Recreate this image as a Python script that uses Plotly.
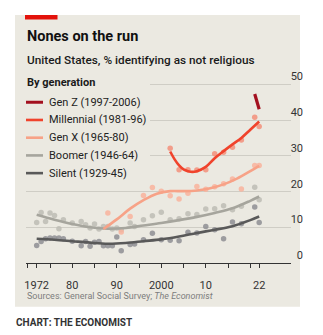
import plotly.graph_objects as go

# ---------------- data ----------------
generations = ["Gen Z (1997-2006)", "Millennial (1981-96)", "Gen X (1965-80)",
               "Boomer (1946-64)", "Silent (1929-45)"]

# survey-year estimates (dots)
silent_years = [1972, 1973, 1974, 1975, 1976, 1977, 1978, 1980, 1982, 1983, 1984, 1985,
                1986, 1987, 1988, 1989, 1990, 1991, 1993, 1994, 1996, 1998, 2000, 2002,
                2004, 2006, 2008, 2010, 2012, 2014, 2016, 2018, 2021, 2022]
silent_vals = [4.9, 6.0, 6.8, 7.0, 7.0, 7.0, 6.8, 6.1, 4.8, 6.0, 4.7, 5.8,
               6.0, 4.8, 4.8, 4.8, 7.3, 3.4, 5.2, 5.3, 6.5, 8.3, 6.5, 6.4,
               6.2, 8.6, 8.4, 10.2, 9.3, 6.8, 11.5, 11.0, 15.7, 11.3]

boomer_years = [1972, 1973, 1974, 1975, 1976, 1977, 1978, 1980, 1982, 1983, 1984, 1985,
                1986, 1987, 1988, 1989, 1990, 1991, 1993, 1994, 1996, 1998, 2000, 2002,
                2004, 2006, 2008, 2010, 2012, 2014, 2016, 2018, 2021, 2022]
boomer_vals = [11.3, 14.1, 11.6, 14.0, 13.3, 9.6, 12.1, 11.2, 11.6, 10.7, 9.8, 10.9,
               9.5, 10.2, 10.2, 9.5, 9.8, 9.3, 11.2, 10.2, 12.1, 13.2, 14.2, 12.1,
               12.4, 13.8, 13.6, 15.1, 15.2, 16.0, 14.9, 15.9, 21.2, 17.7]

genx_years = [1988, 1991, 1993, 1996, 1998, 2000, 2002, 2004, 2006, 2008, 2010, 2012,
              2014, 2016, 2018, 2021, 2022]
genx_vals = [14.0, 8.7, 13.0, 18.9, 21.1, 20.1, 18.8, 17.9, 19.5, 21.4, 20.6, 21.3,
             22.2, 23.5, 20.7, 27.3, 27.3]

mill_years = [2002, 2004, 2006, 2008, 2010, 2012, 2014, 2016, 2018, 2021, 2022]
mill_vals = [32.1, 26.1, 26.1, 26.0, 26.1, 30.6, 31.0, 32.4, 34.4, 40.8, 38.2]

# smoothed trends (lines)
silent_fit_years = [1972, 1976, 1980, 1984, 1988, 1992, 1996, 2000, 2004, 2008, 2012, 2016, 2020, 2022]
silent_fit_vals = [6.8, 6.5, 6.1, 5.7, 5.4, 5.6, 6.1, 6.6, 7.4, 8.4, 9.3, 10.3, 12.0, 13.0]

boomer_fit_years = [1972, 1976, 1980, 1984, 1988, 1992, 1996, 2000, 2004, 2008, 2012, 2016, 2020, 2022]
boomer_fit_vals = [13.5, 12.1, 10.9, 10.0, 9.6, 9.8, 10.5, 11.2, 12.0, 12.9, 14.0, 15.3, 17.4, 18.6]

genx_fit_years = [1987, 1990, 1993, 1996, 1999, 2002, 2005, 2008, 2011, 2014, 2017, 2020, 2022]
genx_fit_vals = [9.5, 12.2, 15.2, 17.6, 19.4, 20.1, 20.1, 20.3, 20.9, 22.0, 23.6, 25.7, 27.2]

mill_fit_years = [2002, 2003, 2004, 2005, 2006, 2007, 2008, 2010, 2012, 2014, 2016, 2018, 2020, 2022]
mill_fit_vals = [31.2, 29.0, 27.3, 26.2, 25.7, 25.5, 25.7, 26.9, 29.3, 31.3, 33.2, 35.0, 37.3, 39.6]

genz_fit_years = [2021, 2022]
genz_fit_vals = [47.3, 43.0]

x_tickvals = [1970, 1972, 1975, 1980, 1985, 1990, 1995, 2000, 2005, 2010, 2015, 2020, 2022]
x_ticktext = ["", "1972", "", "80", "", "90", "", "2000", "", "10", "", "", "22"]
y_tickvals = [0, 10, 20, 30, 40, 50]

# ---------------- styling ----------------
W, H = 323, 335
L, R, T, B = 26, 32, 70.0, 71.7
PANEL = "#ebe9e1"
FONT = "Roboto"

C_GENZ = "#a3101f"
C_MILL = "#f0432c"
C_GENX = "#f7a287"
C_BOOM = "#a6a59d"
C_SIL = "#595959"
DOT_SIL = "#8e8e93"
DOT_BOOM = "#bdbcb4"
DOT_GENX = "#f9b39c"
DOT_MILL = "#f38f7a"


def px_x(px):
    return (px - L) / (W - L - R)


def px_y(py):
    return (H - B - py) / (H - T - B)


fig = go.Figure()

dot_sets = [
    (silent_years, silent_vals, DOT_SIL),
    (boomer_years, boomer_vals, DOT_BOOM),
    (genx_years, genx_vals, DOT_GENX),
    (mill_years, mill_vals, DOT_MILL),
]
for xs, ys, col in dot_sets:
    fig.add_trace(go.Scatter(x=xs, y=ys, mode="markers",
                             marker=dict(size=5.5, color=col, opacity=0.85, line=dict(width=0)),
                             showlegend=False, hoverinfo="skip"))

line_sets = [
    (silent_fit_years, silent_fit_vals, C_SIL, 2.6),
    (boomer_fit_years, boomer_fit_vals, C_BOOM, 2.6),
    (genx_fit_years, genx_fit_vals, C_GENX, 2.6),
    (mill_fit_years, mill_fit_vals, C_MILL, 2.6),
    (genz_fit_years, genz_fit_vals, C_GENZ, 3.2),
]
for xs, ys, col, w in line_sets:
    fig.add_trace(go.Scatter(x=xs, y=ys, mode="lines",
                             line=dict(color=col, width=w, shape="spline", smoothing=1.0),
                             showlegend=False, hoverinfo="skip"))

shapes = [
    # background panel
    dict(type="rect", xref="paper", yref="paper", x0=px_x(15), x1=px_x(300),
         y0=px_y(307), y1=px_y(15), fillcolor=PANEL, line=dict(width=0), layer="below"),
    # red tag
    dict(type="rect", xref="paper", yref="paper", x0=px_x(25), x1=px_x(57.5),
         y0=px_y(19.5), y1=px_y(15), fillcolor="#e3120b", line=dict(width=0), layer="above"),
    # legend area mask over the gridlines
    dict(type="rect", xref="paper", yref="paper", x0=px_x(15), x1=px_x(150),
         y0=px_y(186), y1=px_y(68), fillcolor=PANEL, line=dict(width=0), layer="above"),
]

annotations = [
    dict(text="<b>Nones on the run</b>", x=px_x(25), y=px_y(36), xanchor="left", yanchor="middle",
         font=dict(family=FONT, size=14.5, color="#111111")),
    dict(text="United States, % identifying as not religious", x=px_x(25), y=px_y(60),
         xanchor="left", yanchor="middle", font=dict(family=FONT, size=11.8, color="#1a1a1a", weight=500)),
    dict(text="<b>By generation</b>", x=px_x(25), y=px_y(83), xanchor="left", yanchor="middle",
         font=dict(family=FONT, size=11, color="#1a1a1a")),
    dict(text="Sources: General Social Survey; <i>The Economist</i>", x=px_x(25), y=px_y(296),
         xanchor="left", yanchor="middle", font=dict(family=FONT, size=9, color="#7d7d7d")),
    dict(text="<b>CHART: THE ECONOMIST</b>", x=px_x(14), y=px_y(323), xanchor="left", yanchor="middle",
         font=dict(family=FONT, size=10, color="#333333")),
]

legend_cols = [C_GENZ, C_MILL, C_GENX, C_BOOM, C_SIL]
for i, (name, col) in enumerate(zip(generations, legend_cols)):
    yy = 102.3 + i * 17.75
    shapes.append(dict(type="line", xref="paper", yref="paper", x0=px_x(26), x1=px_x(43),
                       y0=px_y(yy), y1=px_y(yy),
                       line=dict(color=col, width=3 if i == 0 else 2.6), layer="above"))
    annotations.append(dict(text=name, x=px_x(47), y=px_y(yy), xanchor="left", yanchor="middle",
                            font=dict(family=FONT, size=11, color="#222222")))

for a in annotations:
    a.update(xref="paper", yref="paper", showarrow=False)

fig.update_layout(
    width=W, height=H,
    margin=dict(l=L, r=R, t=T, b=B, pad=0),
    paper_bgcolor="white",
    plot_bgcolor="rgba(0,0,0,0)",
    showlegend=False,
    shapes=shapes,
    annotations=annotations,
    font=dict(family=FONT, size=11, color="#333333"),
    xaxis=dict(range=[1969.6, 2029.15], tickvals=x_tickvals, ticktext=x_ticktext,
               showgrid=False, zeroline=False, showline=True, linecolor="#333333", linewidth=1,
               ticks="outside", ticklen=4, tickwidth=1, tickcolor="#333333",
               ticklabelstandoff=8,
               tickfont=dict(family=FONT, size=11, color="#333333")),
    yaxis=dict(range=[0, 54], tickvals=y_tickvals, side="right",
               ticklabelposition="inside top", ticks="", ticklabelstandoff=-15,
               showgrid=True, gridcolor="#cfcdc5", gridwidth=1, zeroline=False, showline=False,
               tickfont=dict(family=FONT, size=11, color="#333333")),
)

fig.write_html("out.html")
